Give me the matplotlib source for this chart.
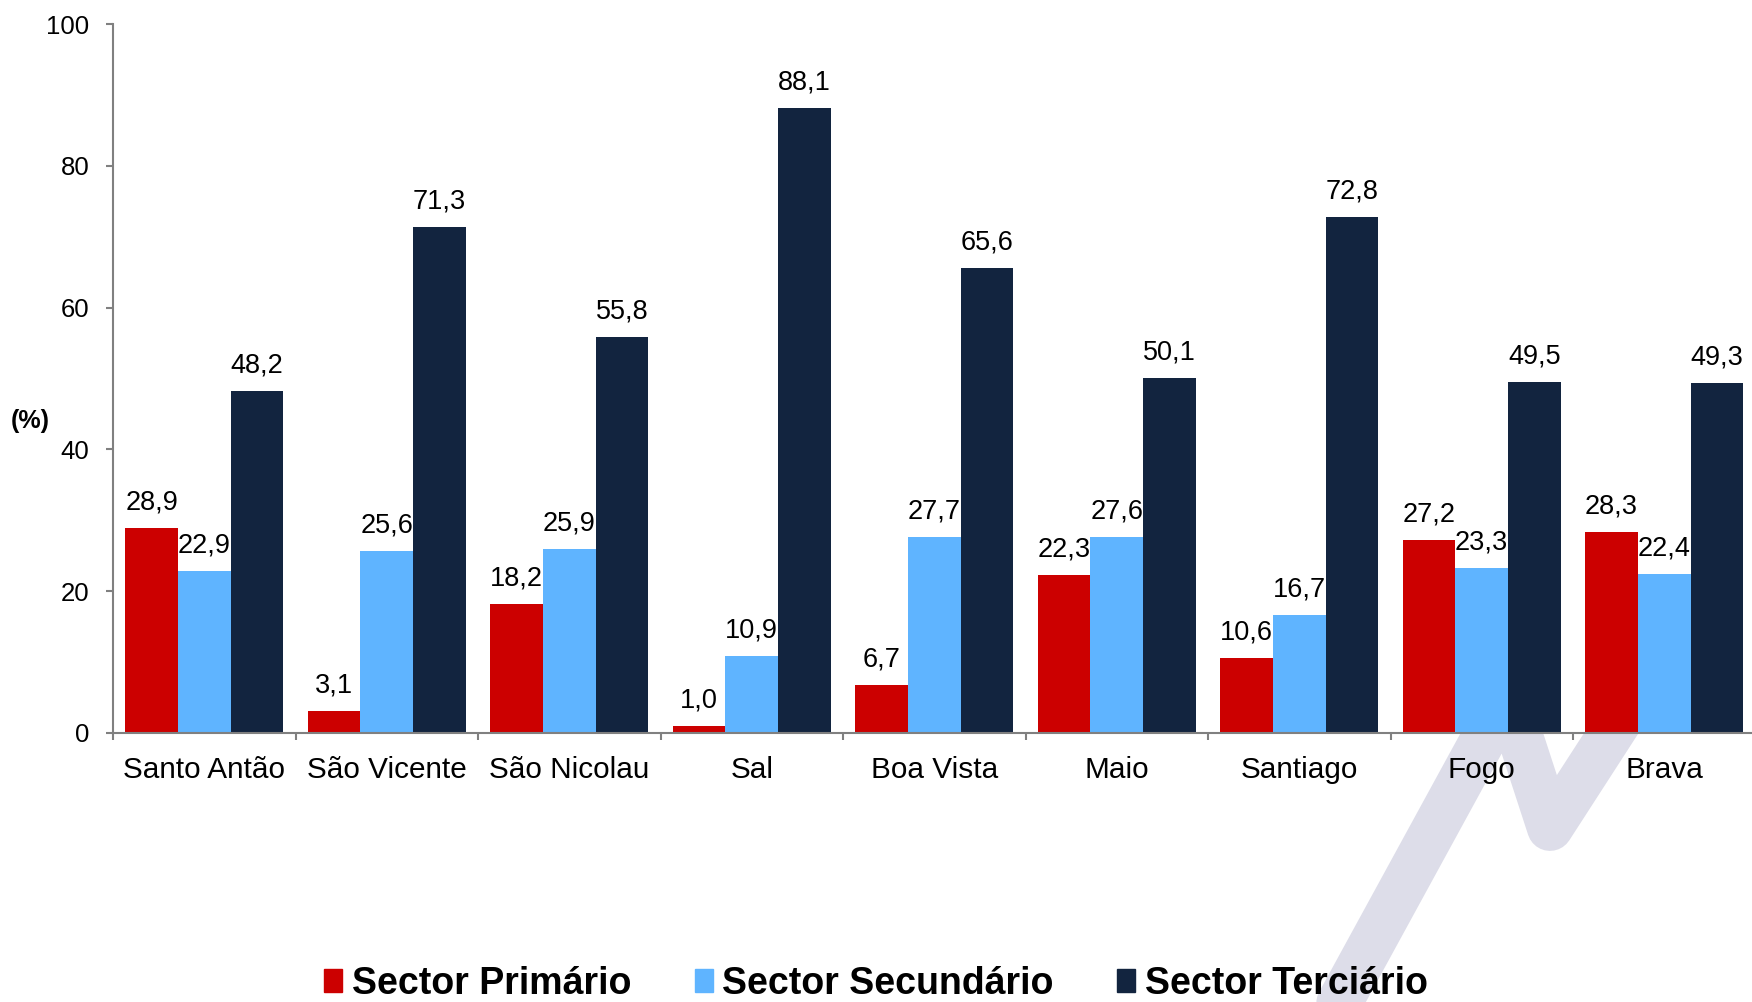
import matplotlib
matplotlib.use("Agg")
import matplotlib.pyplot as plt
import numpy as np
from matplotlib.lines import Line2D
from matplotlib.patches import Patch

plt.rcParams['font.family'] = ['Liberation Sans', 'DejaVu Sans']

# dados
ilhas = ["Santo Antão", "São Vicente", "São Nicolau", "Sal", "Boa Vista",
         "Maio", "Santiago", "Fogo", "Brava"]
primario = [28.9, 3.1, 18.2, 1.0, 6.7, 22.3, 10.6, 27.2, 28.3]
secundario = [22.9, 25.6, 25.9, 10.9, 27.7, 27.6, 16.7, 23.3, 22.4]
terciario = [48.2, 71.3, 55.8, 88.1, 65.6, 50.1, 72.8, 49.5, 49.3]
series = ["Sector Primário", "Sector Secundário", "Sector Terciário"]
cores = ["#cc0000", "#5fb4ff", "#12243f"]

W, H = 1752, 1002
fig = plt.figure(figsize=(W / 100, H / 100), dpi=100)

# marca d'água (fundo)
px = np.array([1319, 1507, 1550, 1665])
py = np.array([1040, 696, 828, 650])
fig.add_artist(Line2D(px / W, 1 - py / H, transform=fig.transFigure,
                      color="#dddde9", lw=33, solid_joinstyle="round",
                      solid_capstyle="round", zorder=0))

ax = fig.add_axes([113 / W, (H - 733) / H, 9 * 182.5 / W, 709 / H])
ax.set_facecolor("none")
ax.set_zorder(1)

x = np.arange(len(ilhas))
w = 0.289
for i, (vals, cor) in enumerate(zip([primario, secundario, terciario], cores)):
    barras = ax.bar(x + (i - 1) * w, vals, w, color=cor, zorder=2)
    for b, v in zip(barras, vals):
        ax.annotate(f"{v:.1f}".replace(".", ","),
                    (b.get_x() + b.get_width() / 2, v),
                    xytext=(0, 9), textcoords="offset points",
                    ha="center", va="bottom", fontsize=19.5)

ax.set_xlim(-0.5, len(ilhas) - 0.5)
ax.set_ylim(0, 100)
ax.set_yticks(range(0, 101, 20))
ax.set_xticks(x)
ax.set_xticklabels(ilhas, fontsize=21.4)
ax.set_xticks(np.arange(len(ilhas) + 1) - 0.5, minor=True)
ax.tick_params(axis="x", which="major", length=0, pad=16.5)
ax.tick_params(axis="x", which="minor", length=5, width=1.5, color="#808080")
ax.tick_params(axis="y", length=5, width=1.5, color="#808080",
               labelsize=18.5, pad=12)

for lado in ["top", "right"]:
    ax.spines[lado].set_visible(False)
for lado in ["left", "bottom"]:
    ax.spines[lado].set_color("#808080")
    ax.spines[lado].set_linewidth(1.5)

fig.text(11 / W, 1 - 421 / H, "(%)", fontsize=18, fontweight="bold",
         ha="left", va="center")

handles = [Patch(color=c, label=s) for c, s in zip(cores, series)]
leg = fig.legend(handles=handles, loc="center", ncol=3,
                 bbox_to_anchor=(0.5, 1 - 984 / H), frameon=False,
                 prop={"size": 27, "weight": "bold"},
                 handlelength=0.48, handleheight=0.56,
                 handletextpad=0.25, columnspacing=1.7)

fig.savefig("out.png", dpi=100)
